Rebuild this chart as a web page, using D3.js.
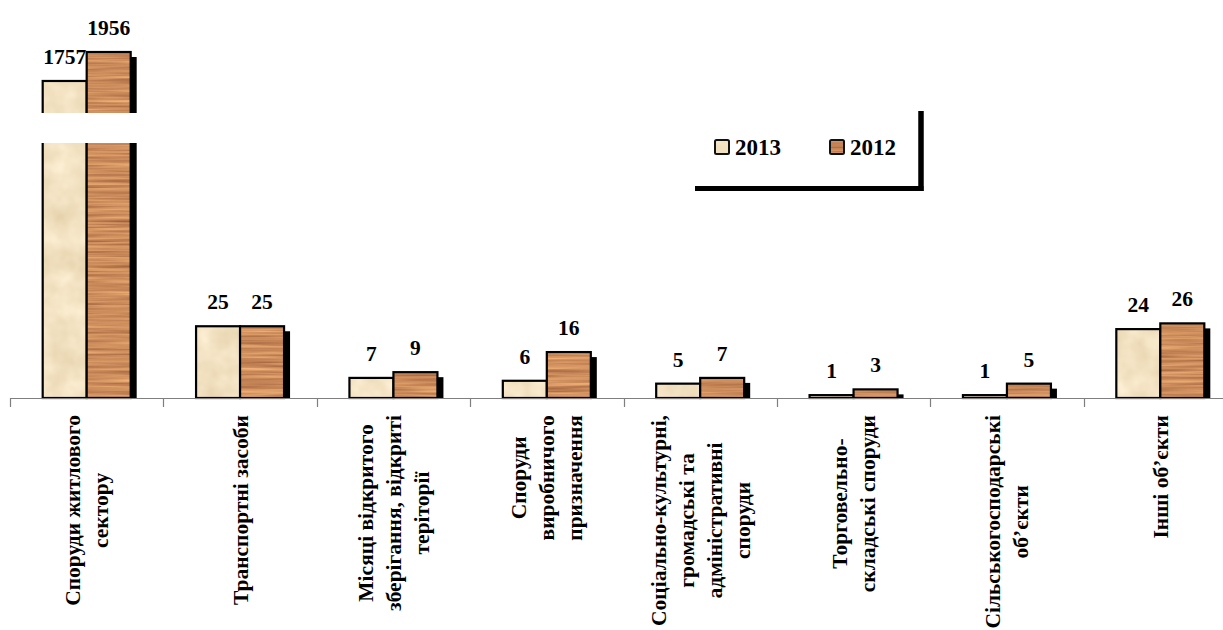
<!DOCTYPE html>
<html>
<head>
<meta charset="utf-8">
<script src="https://cdn.jsdelivr.net/npm/d3@7/dist/d3.min.js"></script>
<style>
  html, body { margin: 0; padding: 0; background: #fff; }
  svg { display: block; }
  text { font-family: "Liberation Serif", "Times New Roman", serif; font-weight: bold; fill: #000; }
</style>
</head>
<body>
<svg id="chart" width="1223" height="630"></svg>
<script>
// ---- data ----
const categories = [
  "Споруди житлового\nсектору",
  "Транспортні засоби",
  "Місяці відкритого\nзберігання, відкриті\nтеріторії",
  "Споруди\nвиробничого\nпризначення",
  "Соціально-культурні,\nгромадські та\nадміністративні\nспоруди",
  "Торговельно-\nскладські споруди",
  "Сільськогосподарські\nоб’єкти",
  "Інші об’єкти"
];
const seriesNames = ["2013", "2012"];
const values2013 = [1757, 25, 7, 6, 5, 1, 1, 24];
const values2012 = [1956, 25, 9, 16, 7, 3, 5, 26];
const lowerTicks = [0, 100];      // lower (unbroken) segment of the value axis
const upperTicks = [1500, 2000];  // upper segment above the axis break

// ---- layout ----
const svg = d3.select("#chart");
const W = 1223, H = 630;
const baseY = 398;
const breakTop = 113, breakBottom = 143;

const x = d3.scaleBand().domain(categories).range([10, 1237]).paddingInner(0).paddingOuter(0);
const xs = d3.scaleBand().domain(seriesNames).range([0, x.bandwidth()]).paddingInner(0).paddingOuter(0.743);
const yLow = d3.scaleLinear().domain(lowerTicks).range([baseY, 111]);
const yHigh = d3.scaleLinear().domain(upperTicks).range([118.4, 45.6]);
const yOf = v => (v > lowerTicks[1] ? yHigh(v) : yLow(v));

// ---- textures ----
const defs = svg.append("defs");
const wood = defs.append("filter").attr("id", "wood").attr("x", 0).attr("y", 0).attr("width", 1).attr("height", 1)
  .attr("color-interpolation-filters", "sRGB");
wood.append("feTurbulence").attr("type", "fractalNoise").attr("baseFrequency", "0.01 0.35")
  .attr("numOctaves", 3).attr("seed", 7).attr("result", "n");
wood.append("feColorMatrix").attr("in", "n").attr("type", "matrix")
  .attr("values", "0.4 0 0 0 0.60  0.4 0 0 0 0.35  0.3 0 0 0 0.21  0 0 0 0 1").attr("result", "c");
wood.append("feComposite").attr("in", "c").attr("in2", "SourceGraphic").attr("operator", "in");

const paper = defs.append("filter").attr("id", "paper").attr("x", 0).attr("y", 0).attr("width", 1).attr("height", 1)
  .attr("color-interpolation-filters", "sRGB");
paper.append("feTurbulence").attr("type", "fractalNoise").attr("baseFrequency", "0.04")
  .attr("numOctaves", 3).attr("seed", 3).attr("result", "n");
paper.append("feColorMatrix").attr("in", "n").attr("type", "matrix")
  .attr("values", "0.12 0 0 0 0.89  0.15 0 0 0 0.81  0.2 0 0 0 0.66  0 0 0 0 1").attr("result", "c");
paper.append("feComposite").attr("in", "c").attr("in2", "SourceGraphic").attr("operator", "in");

const texture = { "2013": "url(#paper)", "2012": "url(#wood)" };

const rows = categories.map((c, i) => ({ cat: c, vals: [
  { s: "2013", v: values2013[i] }, { s: "2012", v: values2012[i] }
]}));

// ---- shadows ----
const gShadow = svg.append("g");
rows.forEach(r => r.vals.forEach(d => {
  const bx = x(r.cat) + xs(d.s), top = yOf(d.v);
  gShadow.append("rect").attr("x", bx + 6).attr("y", top + 5)
    .attr("width", xs.bandwidth()).attr("height", Math.max(0, baseY - top - 5)).attr("fill", "#000");
}));

// ---- bars ----
const gBars = svg.append("g");
rows.forEach(r => r.vals.forEach(d => {
  const bx = x(r.cat) + xs(d.s), top = yOf(d.v);
  gBars.append("rect").attr("x", bx).attr("y", top).attr("width", xs.bandwidth())
    .attr("height", baseY - top).attr("fill", "#fff").attr("filter", texture[d.s]);
  gBars.append("rect").attr("x", bx).attr("y", top).attr("width", xs.bandwidth())
    .attr("height", baseY - top).attr("fill", "none").attr("stroke", "#000").attr("stroke-width", 2.2);
}));

// axis break (white gap across the broken bars)
svg.append("rect").attr("x", x(categories[0])).attr("y", breakTop)
  .attr("width", x.bandwidth()).attr("height", breakBottom - breakTop).attr("fill", "#fff");

// ---- category axis ----
const gAxis = svg.append("g");
gAxis.append("line").attr("x1", 10).attr("x2", W).attr("y1", baseY + 0.5).attr("y2", baseY + 0.5)
  .attr("stroke", "#7f7f7f").attr("stroke-width", 1.2);
categories.forEach(c => {
  const tx = Math.round(x(c)) + 0.5;
  gAxis.append("line").attr("x1", tx).attr("x2", tx).attr("y1", baseY).attr("y2", baseY + 9)
    .attr("stroke", "#7f7f7f").attr("stroke-width", 1.2);
});

// ---- value labels ----
const gVal = svg.append("g");
rows.forEach(r => r.vals.forEach(d => {
  const cx = x(r.cat) + xs(d.s) + xs.bandwidth() / 2;
  gVal.append("text").attr("x", cx).attr("y", yOf(d.v) - 17)
    .attr("text-anchor", "middle").style("font-size", "21.5px").text(d.v);
}));

// ---- category labels (rotated, multi-line, top-aligned under the axis) ----
const labelTop = 415, lineH = 28;
categories.forEach(c => {
  const lines = c.split("\n");
  const g = svg.append("g").attr("transform", `translate(${x(c) + x.bandwidth() / 2},0) rotate(-90)`);
  const texts = lines.map((ln, i) => g.append("text")
    .attr("y", (i - (lines.length - 1) / 2) * lineH)
    .attr("dy", "0.35em").attr("text-anchor", "middle").style("font-size", "21.5px").text(ln));
  const maxLen = d3.max(texts, t => t.node().getComputedTextLength());
  texts.forEach(t => t.attr("x", -(labelTop + maxLen / 2)));
});

// ---- legend ----
const gLeg = svg.append("g");
gLeg.append("line").attr("x1", 921).attr("x2", 921).attr("y1", 111).attr("y2", 191)
  .attr("stroke", "#000").attr("stroke-width", 5.5);
gLeg.append("line").attr("x1", 695).attr("x2", 923.5).attr("y1", 188.5).attr("y2", 188.5)
  .attr("stroke", "#000").attr("stroke-width", 5);
const legX = { "2013": 715, "2012": 830 };
seriesNames.forEach(s => {
  gLeg.append("rect").attr("x", legX[s]).attr("y", 140).attr("width", 14).attr("height", 14)
    .attr("fill", "#fff").attr("filter", texture[s]);
  gLeg.append("rect").attr("x", legX[s]).attr("y", 140).attr("width", 14).attr("height", 14)
    .attr("rx", 1.5).attr("fill", "none").attr("stroke", "#111").attr("stroke-width", 2);
  gLeg.append("text").attr("x", legX[s] + 20).attr("y", 155).style("font-size", "23px").text(s);
});
</script>
</body>
</html>
